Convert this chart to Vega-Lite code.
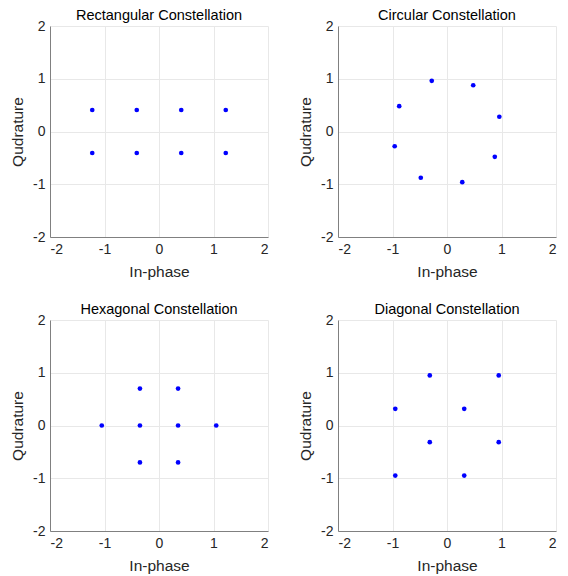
{
  "$schema": "https://vega.github.io/schema/vega-lite/v6.json",
  "background": "white",
  "padding": {"left": 10, "top": 7, "right": 10, "bottom": 4},
  "columns": 2,
  "bounds": "flush",
  "spacing": {"row": 83, "column": 70},
  "config": {
    "font": "Liberation Sans",
    "view": {"stroke": null},
    "title": {"fontSize": 14.5, "fontWeight": "normal", "color": "#000000", "offset": -4},
    "axis": {
      "domainColor": "#808080",
      "tickColor": "#808080",
      "tickSize": 0,
      "labelFontSize": 14,
      "labelColor": "#262626",
      "titleFontSize": 15.5,
      "titleFontWeight": "normal",
      "titleColor": "#262626",
      "gridColor": "#e8e8e8",
      "labelPadding": 5,
      "labelExpr": "datum.value + ''"
    },
    "axisX": {"titlePadding": 8},
    "axisY": {"titlePadding": 7}
  },
  "concat": [
    {
      "title": "Rectangular Constellation",
      "width": 218, "height": 211,
      "data": {"values": [
        {"I": -1.225, "Q": 0.408}, {"I": -0.408, "Q": 0.408}, {"I": 0.408, "Q": 0.408}, {"I": 1.225, "Q": 0.408},
        {"I": -1.225, "Q": -0.408}, {"I": -0.408, "Q": -0.408}, {"I": 0.408, "Q": -0.408}, {"I": 1.225, "Q": -0.408}
      ]},
      "mark": {"type": "point", "filled": true, "shape": "circle", "size": 22, "color": "#0000ff", "opacity": 1},
      "encoding": {
        "x": {"field": "I", "type": "quantitative", "title": "In-phase", "scale": {"domain": [-2, 2], "nice": false, "zero": false}, "axis": {"values": [-2, -1, 0, 1, 2]}},
        "y": {"field": "Q", "type": "quantitative", "title": "Qudrature", "scale": {"domain": [-2, 2], "nice": false, "zero": false}, "axis": {"values": [-2, -1, 0, 1, 2]}}
      }
    },
    {
      "title": "Circular Constellation",
      "width": 218, "height": 211,
      "data": {"values": [
        {"I": 0.960, "Q": 0.280}, {"I": 0.481, "Q": 0.877}, {"I": -0.280, "Q": 0.960}, {"I": -0.877, "Q": 0.481},
        {"I": -0.960, "Q": -0.280}, {"I": -0.481, "Q": -0.877}, {"I": 0.280, "Q": -0.960}, {"I": 0.877, "Q": -0.481}
      ]},
      "mark": {"type": "point", "filled": true, "shape": "circle", "size": 22, "color": "#0000ff", "opacity": 1},
      "encoding": {
        "x": {"field": "I", "type": "quantitative", "title": "In-phase", "scale": {"domain": [-2, 2], "nice": false, "zero": false}, "axis": {"values": [-2, -1, 0, 1, 2]}},
        "y": {"field": "Q", "type": "quantitative", "title": "Qudrature", "scale": {"domain": [-2, 2], "nice": false, "zero": false}, "axis": {"values": [-2, -1, 0, 1, 2]}}
      }
    },
    {
      "title": "Hexagonal Constellation",
      "width": 218, "height": 211,
      "data": {"values": [
        {"I": -1.05, "Q": 0}, {"I": -0.35, "Q": 0}, {"I": 0.35, "Q": 0}, {"I": 1.05, "Q": 0},
        {"I": -0.35, "Q": 0.7}, {"I": 0.35, "Q": 0.7}, {"I": -0.35, "Q": -0.7}, {"I": 0.35, "Q": -0.7}
      ]},
      "mark": {"type": "point", "filled": true, "shape": "circle", "size": 22, "color": "#0000ff", "opacity": 1},
      "encoding": {
        "x": {"field": "I", "type": "quantitative", "title": "In-phase", "scale": {"domain": [-2, 2], "nice": false, "zero": false}, "axis": {"values": [-2, -1, 0, 1, 2]}},
        "y": {"field": "Q", "type": "quantitative", "title": "Qudrature", "scale": {"domain": [-2, 2], "nice": false, "zero": false}, "axis": {"values": [-2, -1, 0, 1, 2]}}
      }
    },
    {
      "title": "Diagonal Constellation",
      "width": 218, "height": 211,
      "data": {"values": [
        {"I": -0.316, "Q": 0.949}, {"I": 0.949, "Q": 0.949}, {"I": -0.949, "Q": 0.316}, {"I": 0.316, "Q": 0.316},
        {"I": -0.316, "Q": -0.316}, {"I": 0.949, "Q": -0.316}, {"I": -0.949, "Q": -0.949}, {"I": 0.316, "Q": -0.949}
      ]},
      "mark": {"type": "point", "filled": true, "shape": "circle", "size": 22, "color": "#0000ff", "opacity": 1},
      "encoding": {
        "x": {"field": "I", "type": "quantitative", "title": "In-phase", "scale": {"domain": [-2, 2], "nice": false, "zero": false}, "axis": {"values": [-2, -1, 0, 1, 2]}},
        "y": {"field": "Q", "type": "quantitative", "title": "Qudrature", "scale": {"domain": [-2, 2], "nice": false, "zero": false}, "axis": {"values": [-2, -1, 0, 1, 2]}}
      }
    }
  ]
}
